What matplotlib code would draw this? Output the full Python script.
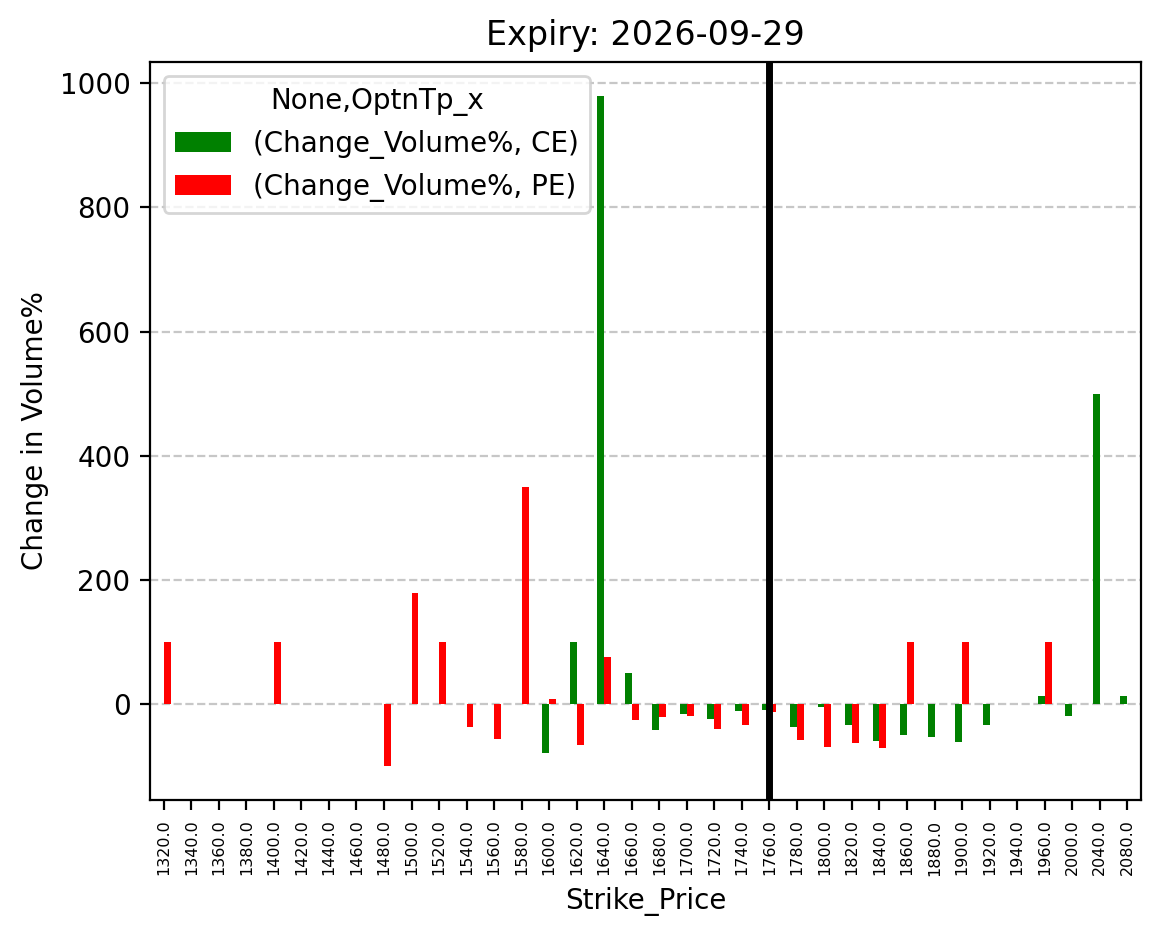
import numpy as np
import matplotlib
matplotlib.use("Agg")
import matplotlib.pyplot as plt

nan = np.nan

strike_prices = [1320, 1340, 1360, 1380, 1400, 1420, 1440, 1460, 1480, 1500,
                 1520, 1540, 1560, 1580, 1600, 1620, 1640, 1660, 1680, 1700,
                 1720, 1740, 1760, 1780, 1800, 1820, 1840, 1860, 1880, 1900,
                 1920, 1940, 1960, 2000, 2040, 2080]

ce_change = [nan, nan, nan, nan, nan, nan, nan, nan, nan, nan,
             nan, nan, nan, nan, -78, 100, 980, 50, -41, -15,
             -23, -10, -9, -36, -5, -34, -59, -49, -52, -60,
             -33, nan, 14, -18, 500, 14]

pe_change = [100, nan, nan, nan, 100, nan, nan, nan, -100, 180,
             100, -37, -55, 350, 9, -65, 77, -25, -20, -18,
             -39, -33, -13, -58, -68, -63, -71, 100, nan, 100,
             nan, nan, 100, nan, nan, nan]

spot_strike = 1760
expiry = "2026-09-29"

fig = plt.figure(figsize=(1161 / 200, 939 / 200), dpi=200)
ax = fig.add_axes([150 / 1161, (939 - 800) / 939, (1141 - 150) / 1161, (800 - 62) / 939])

x = np.arange(len(strike_prices))
w = 0.25
ax.bar(x - w / 2, ce_change, width=w, color="green", label="(Change_Volume%, CE)")
ax.bar(x + w / 2, pe_change, width=w, color="red", label="(Change_Volume%, PE)")
ax.set_xlim(-0.5, len(strike_prices) - 0.5)

ax.set_xticks(x)
ax.set_xticklabels([f"{s:.1f}" for s in strike_prices], rotation=90, fontsize="xx-small")

ax.axvline(strike_prices.index(spot_strike), color="black", linewidth=2.5)

ax.grid(axis="y", linestyle="--", alpha=0.7)
ax.set_axisbelow(True)

ax.set_title(f"Expiry: {expiry}")
ax.set_xlabel("Strike_Price")
ax.set_ylabel("Change in Volume%")
ax.legend(title="None,OptnTp_x", loc="upper left")

fig.savefig("out.png", dpi=200)
